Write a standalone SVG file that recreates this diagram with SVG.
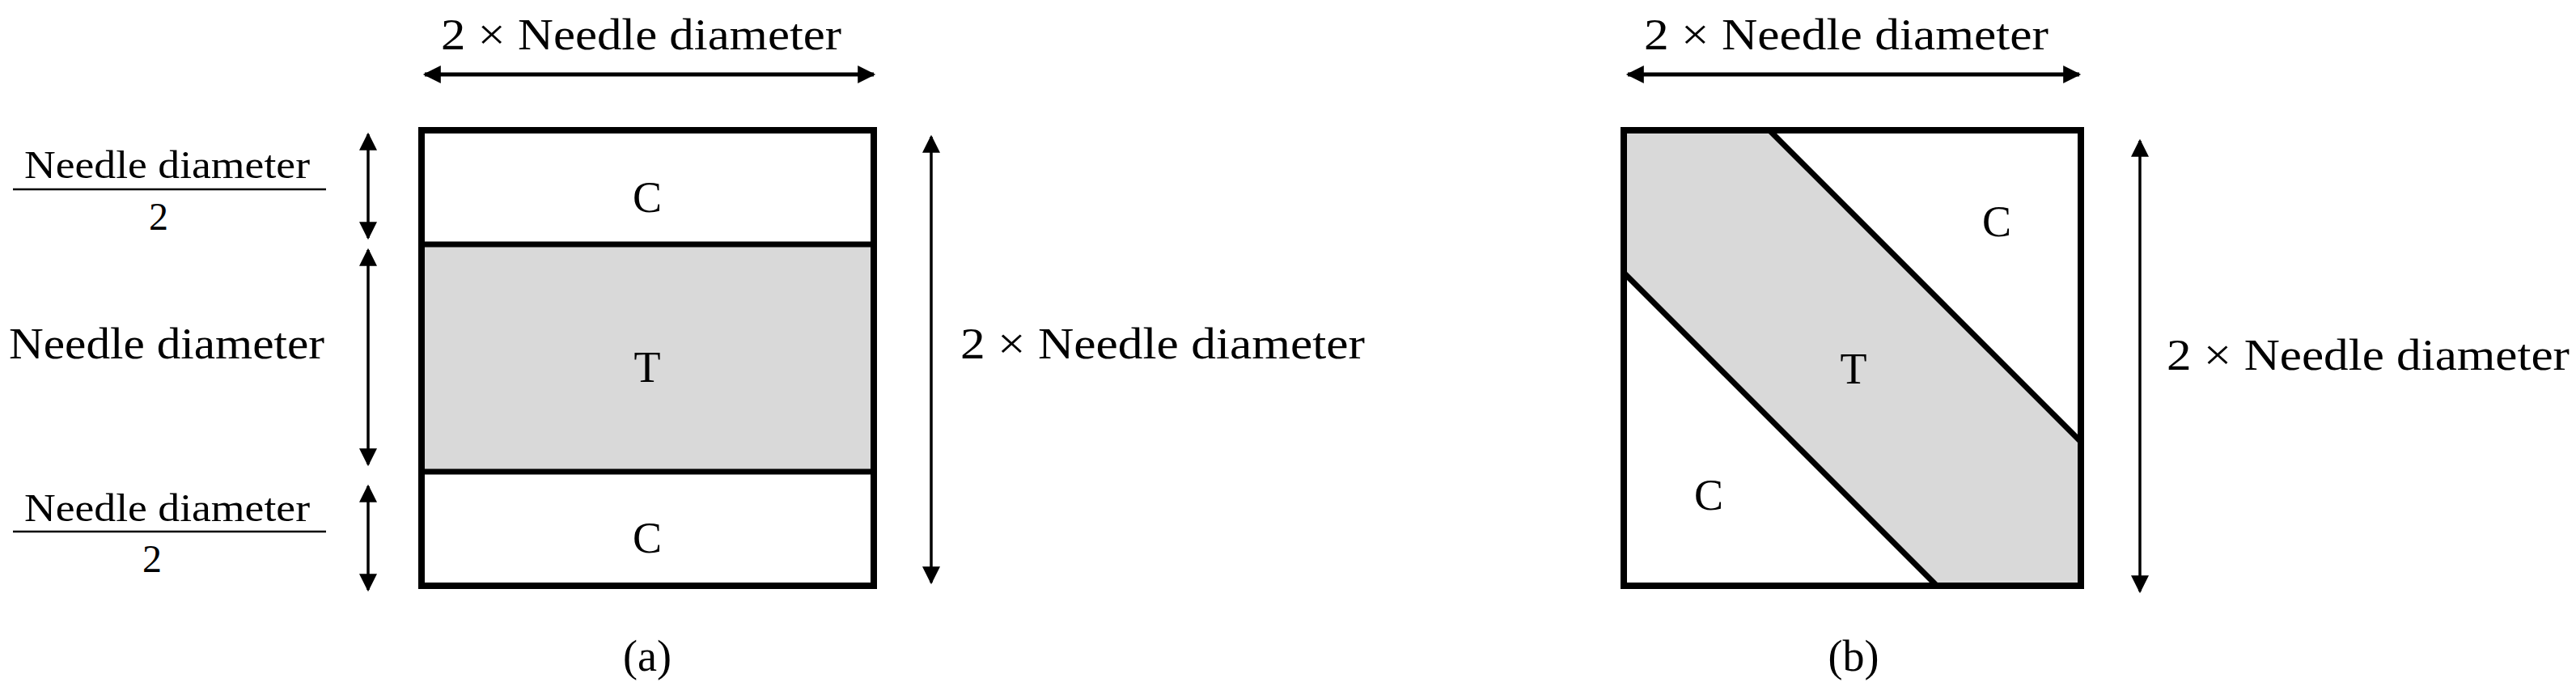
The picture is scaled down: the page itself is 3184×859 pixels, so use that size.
<svg xmlns="http://www.w3.org/2000/svg" width="3184" height="859" viewBox="0 0 3184 859">
<style>
text{font-family:"Liberation Serif","Times New Roman",serif;font-size:54px;fill:#000}
.m{text-anchor:middle}
.f{font-size:48px}
.box{fill:none;stroke:#000;stroke-width:8}
.ln{stroke:#000;stroke-width:7;fill:none}
.ar{stroke:#000;stroke-width:3.5;fill:none;marker-start:url(#h);marker-end:url(#h)}
.art{stroke:#000;stroke-width:5;fill:none;marker-start:url(#h);marker-end:url(#h)}
</style>
<defs>
<marker id="h" viewBox="0 0 10 10" refX="9" refY="5" markerUnits="userSpaceOnUse" markerWidth="30" markerHeight="22" orient="auto-start-reverse"><path d="M0,0 L10,5 L0,10 Z" fill="#000"/></marker>
</defs>
<rect width="3184" height="859" fill="#fff"/>
<g id="panel-a">
<rect x="521" y="302" width="559" height="281" fill="#d9d9d9"/>
<rect class="box" x="521" y="161" width="559" height="563"/>
<line class="ln" x1="521" y1="302" x2="1080" y2="302"/>
<line class="ln" x1="521" y1="583" x2="1080" y2="583"/>
<text class="m" x="800" y="262">C</text>
<text class="m" x="800" y="472">T</text>
<text class="m" x="800" y="683">C</text>
<text class="m" x="800" y="829">(a)</text>
</g>
<g id="panel-b">
<polygon points="2007,161 2187,161 2572,546 2572,724 2394,724 2007,337" fill="#d9d9d9"/>
<rect class="box" x="2007" y="161" width="565" height="563"/>
<line class="ln" x1="2187" y1="161" x2="2572" y2="546"/>
<line class="ln" x1="2007" y1="337" x2="2394" y2="724"/>
<text class="m" x="2468" y="292">C</text>
<text class="m" x="2291" y="474">T</text>
<text class="m" x="2112" y="630">C</text>
<text class="m" x="2291" y="829">(b)</text>
</g>
<g id="labels">
<text x="545" y="61" textLength="495" lengthAdjust="spacingAndGlyphs">2 ×  Needle diameter</text>
<text x="30" y="220" class="f" textLength="353" lengthAdjust="spacingAndGlyphs">Needle diameter</text>
<line x1="16" y1="234" x2="403" y2="234" stroke="#000" stroke-width="2.5"/>
<text class="m f" x="196" y="284">2</text>
<text x="11" y="443" textLength="390" lengthAdjust="spacingAndGlyphs">Needle diameter</text>
<text x="30" y="644" class="f" textLength="353" lengthAdjust="spacingAndGlyphs">Needle diameter</text>
<line x1="16" y1="657" x2="403" y2="657" stroke="#000" stroke-width="2.5"/>
<text class="m f" x="188" y="707">2</text>
<text x="1187" y="443" textLength="500" lengthAdjust="spacingAndGlyphs">2 ×  Needle diameter</text>
<text x="2032" y="61" textLength="500" lengthAdjust="spacingAndGlyphs">2 ×  Needle diameter</text>
<text x="2678" y="457" textLength="498" lengthAdjust="spacingAndGlyphs">2 ×  Needle diameter</text>
</g>
<g id="connectors">
<line class="art" x1="525" y1="92" x2="1080" y2="92"/>
<line class="ar" x1="455" y1="166" x2="455" y2="294"/>
<line class="ar" x1="455" y1="309" x2="455" y2="574"/>
<line class="ar" x1="455" y1="601" x2="455" y2="729"/>
<line class="ar" x1="1151" y1="169" x2="1151" y2="720"/>
<line class="art" x1="2012" y1="92" x2="2570" y2="92"/>
<line class="ar" x1="2645" y1="174" x2="2645" y2="731"/>
</g>
</svg>
